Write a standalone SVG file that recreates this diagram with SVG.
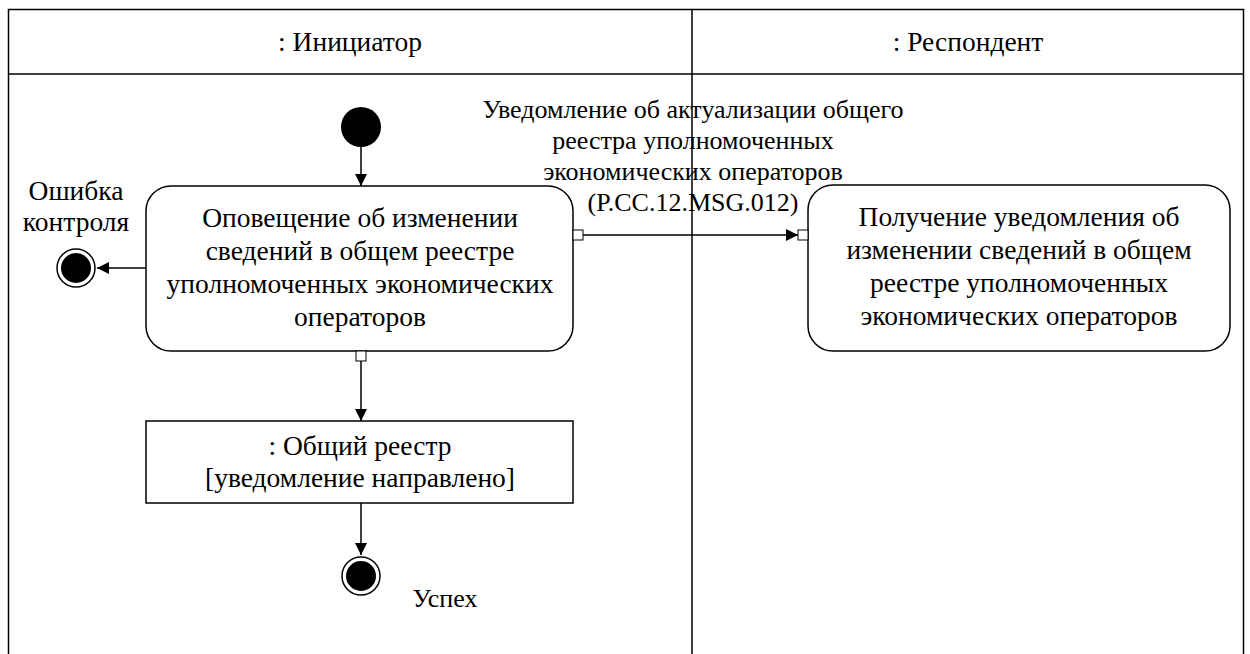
<svg xmlns="http://www.w3.org/2000/svg" width="1250" height="654" viewBox="0 0 1250 654">
<defs>
<style>
.ln{stroke:#000;stroke-width:1.5;fill:none}
.bx{stroke:#000;stroke-width:1.5;fill:#fff}
.t{font-family:"Liberation Serif","Times New Roman",serif;font-size:27.5px;fill:#000;text-anchor:middle}
.m{font-family:"Liberation Serif","Times New Roman",serif;font-size:26px;fill:#000;text-anchor:middle}
.pin{stroke:#000;stroke-width:1;fill:#fff}
</style>
<marker id="ah" viewBox="0 0 10 10" refX="10" refY="5" markerWidth="12" markerHeight="12" markerUnits="userSpaceOnUse" orient="auto"><path d="M0,0L10,5L0,10z" fill="#000"/></marker>
</defs>
<rect width="1250" height="654" fill="#fff"/>
<g id="lanes">
<rect x="8.5" y="9.5" width="1235" height="660" class="ln" stroke-width="2"/>
<line x1="8" y1="74" x2="1244" y2="74" class="ln"/>
<line x1="692" y1="9" x2="692" y2="660" class="ln"/>
<text x="350" y="51" class="t">: Инициатор</text>
<text x="968" y="51" class="t">: Респондент</text>
</g>
<g id="connectors">
<line x1="361" y1="147" x2="361" y2="186" class="ln" stroke-width="1" marker-end="url(#ah)"/>
<line x1="146" y1="268" x2="97" y2="268" class="ln" stroke-width="1" marker-end="url(#ah)"/>
<line x1="583" y1="235" x2="798" y2="235" class="ln" stroke-width="1" marker-end="url(#ah)"/>
<line x1="361" y1="361" x2="361" y2="421" class="ln" stroke-width="1" marker-end="url(#ah)"/>
<line x1="361" y1="503" x2="361" y2="555" class="ln" stroke-width="1" marker-end="url(#ah)"/>
<text class="m"><tspan x="693" y="118">Уведомление об актуализации общего</tspan><tspan x="693" y="149">реестра уполномоченных</tspan><tspan x="693" y="180">экономических операторов</tspan><tspan x="693" y="211">(P.CC.12.MSG.012)</tspan></text>
</g>
<g id="start"><circle cx="361" cy="127" r="20" fill="#000"/></g>
<g id="act1">
<rect x="146" y="186" width="427" height="165" rx="25" class="bx"/>
<text class="t"><tspan x="360" y="227">Оповещение об изменении</tspan><tspan x="360" y="260">сведений в общем реестре</tspan><tspan x="360" y="293">уполномоченных экономических</tspan><tspan x="360" y="326">операторов</tspan></text>
<rect x="573" y="230" width="10" height="10" class="pin"/>
<rect x="356" y="351" width="10" height="10" class="pin"/>
</g>
<g id="act2">
<rect x="808" y="185" width="422" height="166" rx="25" class="bx"/>
<text class="t"><tspan x="1019" y="226">Получение уведомления об</tspan><tspan x="1019" y="259">изменении сведений в общем</tspan><tspan x="1019" y="292">реестре уполномоченных</tspan><tspan x="1019" y="325">экономических операторов</tspan></text>
<rect x="798" y="230" width="10" height="10" class="pin"/>
</g>
<g id="obj">
<rect x="146" y="421" width="427" height="82" class="bx"/>
<text class="t"><tspan x="360" y="455">: Общий реестр</tspan><tspan x="360" y="487">[уведомление направлено]</tspan></text>
</g>
<g id="errEnd">
<circle cx="76" cy="268" r="19" fill="#fff" stroke="#000" stroke-width="1.5"/>
<circle cx="76" cy="268" r="15" fill="#000"/>
<text class="t"><tspan x="76" y="200">Ошибка</tspan><tspan x="76" y="231">контроля</tspan></text>
</g>
<g id="okEnd">
<circle cx="361" cy="576" r="19" fill="#fff" stroke="#000" stroke-width="1.5"/>
<circle cx="361" cy="576" r="15" fill="#000"/>
<text x="445" y="607" font-size="26" class="t" style="font-size:26px">Успех</text>
</g>
</svg>
